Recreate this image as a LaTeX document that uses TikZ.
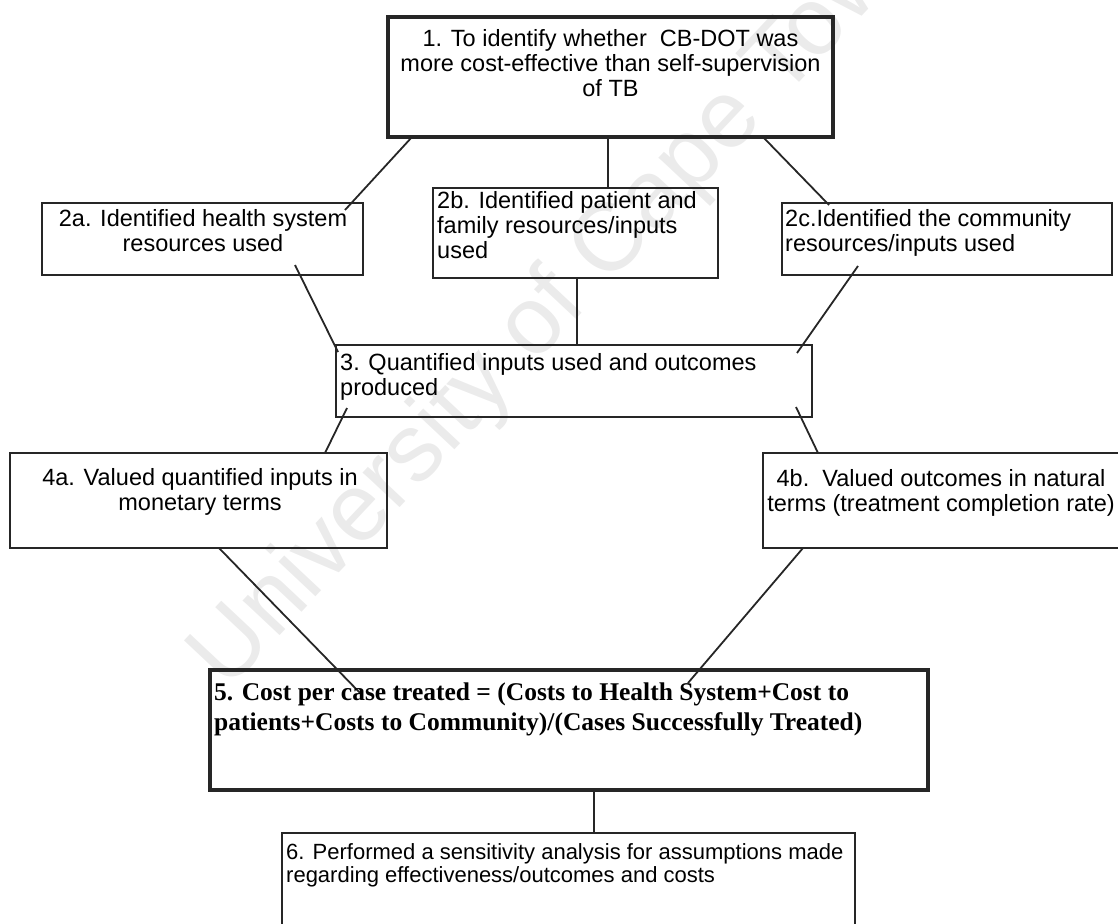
\documentclass[tikz,border=0pt]{standalone}
\usepackage{fontspec}
\setmainfont{Liberation Serif}
\setsansfont{Liberation Sans}
\usetikzlibrary{calc}
\begin{document}
\begin{tikzpicture}[x=1pt,y=-1pt,
  box/.style={draw=black!85, line width=1.6pt, inner sep=0pt, outer sep=0pt, anchor=north west},
  thickbox/.style={box, line width=4.5pt},
  midbox/.style={box, line width=3.5pt},
  txt/.style={inner sep=0pt, font=\sffamily\fontsize{23.5}{25}\selectfont},
  smalltxt/.style={inner sep=0pt, font=\sffamily\fontsize{22}{23.5}\selectfont},
  boldtxt/.style={inner sep=0pt, font=\rmfamily\bfseries\fontsize{25.5}{30}\selectfont},
  link/.style={draw=black!85, line width=1.8pt},
  wmark/.style={inner sep=0pt, text=black!8, font=\sffamily\fontsize{96}{96}\selectfont}]
\useasboundingbox (0,0) rectangle (1118,923);

% watermark
\node[wmark, rotate=46.8] (wm) at (564,297) {University of Cape Town};

% boxes
\node[thickbox, minimum width=445, minimum height=120] (b1) at (388,17) {};
\node[box, minimum width=321, minimum height=72] (b2a) at (42,203) {};
\node[box, minimum width=285, minimum height=90] (b2b) at (433,188) {};
\node[box, minimum width=330, minimum height=72] (b2c) at (782,203) {};
\node[box, minimum width=476, minimum height=72] (b3) at (336,345) {};
\node[box, minimum width=377, minimum height=95] (b4a) at (10,453) {};
\node[box, minimum width=362, minimum height=95] (b4b) at (763,453) {};
\node[midbox, minimum width=718, minimum height=120] (b5) at (210,670) {};
\node[box, minimum width=573, minimum height=120] (b6) at (282,833) {};

% connectors
\draw[link] ($(b1.south west)+(24,0)$) -- ($(b2a.north east)+(-18,7)$);
\draw[link] ($(b1.south west)+(220,0)$) -- ($(b2b.north west)+(175,0)$);
\draw[link] ($(b1.south east)+(-70,0)$) -- ($(b2c.north west)+(47,2)$);
\draw[link] ($(b2a.south east)+(-68,-10)$) -- ($(b3.north west)+(2,7)$);
\draw[link] ($(b2b.south west)+(144,0)$) -- ($(b3.north west)+(241,0)$);
\draw[link] ($(b2c.south west)+(76,-9)$) -- ($(b3.north east)+(-15,8)$);
\draw[link] ($(b3.south west)+(11,-9)$) -- ($(b4a.north east)+(-62,0)$);
\draw[link] ($(b3.south east)+(-16,-10)$) -- ($(b4b.north west)+(55,0)$);
\draw[link] ($(b4a.south west)+(209,0)$) -- ($(b5.north west)+(152,25)$);
\draw[link] ($(b4b.south west)+(40,0)$) -- ($(b5.north west)+(478,13)$);
\draw[link] ($(b5.south west)+(384,0)$) -- ($(b6.north west)+(312,0)$);

% texts
\node[txt, anchor=north, align=center] (t1) at (610.5,29.5)
  {1. To identify whether\ \ CB-DOT was\\more cost-effective than self-supervision\\of TB};
\node[txt, anchor=north, align=center] (t2a) at (203,209.6)
  {2a. Identified health system\\resources used};
\node[txt, anchor=north west, align=left] (t2b) at (437,191.6)
  {2b. Identified patient and\\family resources/inputs\\used};
\node[txt, anchor=north west, align=left] (t2c) at (785,209.6)
  {2c.Identified the community\\resources/inputs used};
\node[txt, anchor=north west, align=left] (t3) at (340,353.6)
  {3. Quantified inputs used and outcomes\\produced};
\node[txt, anchor=north, align=center] (t4a) at (200,468.6)
  {4a. Valued quantified inputs in\\monetary terms};
\node[txt, anchor=north, align=center] (t4b) at (941,469.6)
  {4b.\ \ Valued outcomes in natural\\terms (treatment completion rate)};
\node[boldtxt, anchor=north west, align=left] (t5) at (214,683)
  {5. Cost per case treated = (Costs to Health System+Cost to\\patients+Costs to Community)/(Cases Successfully Treated)};
\node[smalltxt, anchor=north west, align=left] (t6) at (286,843)
  {6. Performed a sensitivity analysis for assumptions made\\regarding effectiveness/outcomes and costs};
\end{tikzpicture}
\end{document}
